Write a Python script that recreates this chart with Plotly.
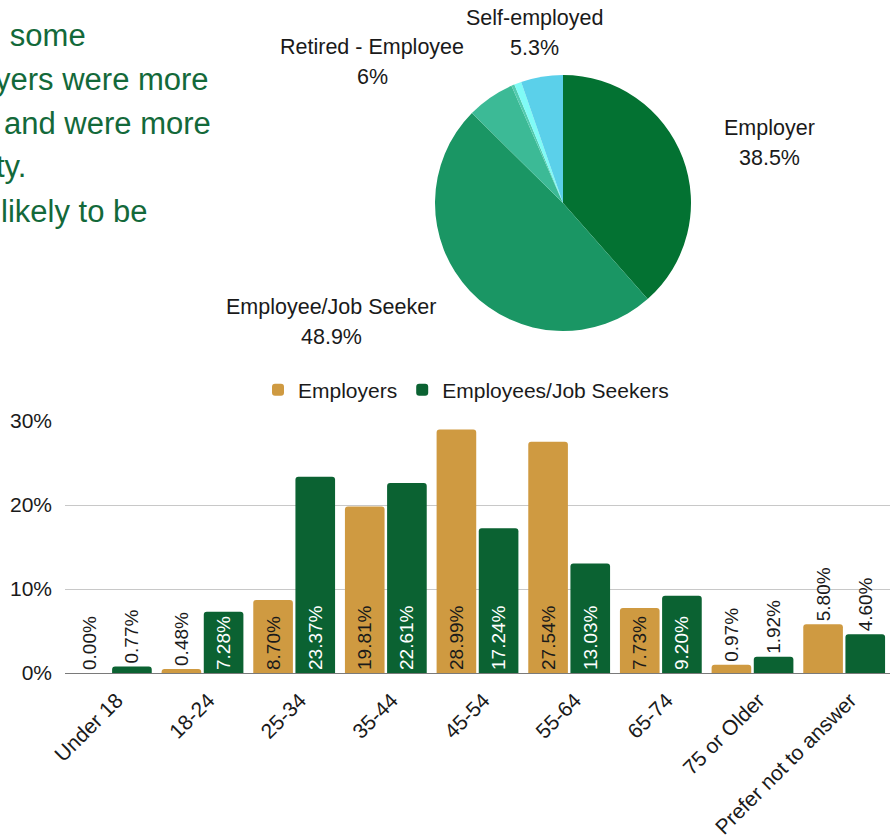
import plotly.graph_objects as go

# ---- data ----
pie_labels = ["Employer", "Employee/Job Seeker", "Retired - Employee",
              "Retired - Employer", "Other", "Self-employed"]
pie_values = [38.5, 48.9, 6.0, 0.4, 0.9, 5.3]
pie_colors = ["#037232", "#1a9664", "#3cba96", "#52cbb0", "#80fbf6", "#5bd0ea"]

age_groups = ["Under 18", "18-24", "25-34", "35-44", "45-54", "55-64",
              "65-74", "75 or Older", "Prefer not to answer"]
employers = [0.00, 0.48, 8.70, 19.81, 28.99, 27.54, 7.73, 0.97, 5.80]
employees = [0.77, 7.28, 23.37, 22.61, 17.24, 13.03, 9.20, 1.92, 4.60]

y_ticks = [0, 10, 20, 30]
y_tick_text = ["0%", "10%", "20%", "30%"]

summary_lines = ["d some", "yers were more", "and were more", "ty.", "likely to be"]

W, H = 890, 835
FONT = "Liberation Sans, Arial, sans-serif"
ORANGE = "#cf9a41"
GREEN = "#0b6232"
INK = "#1a1a1a"


def px(x):
    return x / W


def py(y):
    return 1 - y / H


def pos_for(vals, threshold=6.0):
    return ["inside" if v >= threshold else "outside" for v in vals]


fig = go.Figure()

# pie of respondent types
fig.add_trace(go.Pie(
    labels=pie_labels, values=pie_values, sort=False, direction="clockwise",
    rotation=0, textinfo="none", hoverinfo="label+percent",
    marker=dict(colors=pie_colors, line=dict(width=0)),
    domain=dict(x=[px(435), px(691)], y=[py(331), py(75)]),
    showlegend=False,
))

# grouped bars by age
for name, vals, color, txtcolor in [
    ("Employers", employers, ORANGE, INK),
    ("Employees/Job Seekers", employees, GREEN, "#ffffff"),
]:
    fig.add_trace(go.Bar(
        name=name, x=age_groups, y=vals, marker=dict(color=color, line=dict(width=0)),
        texttemplate="%{y:.2f}%", textangle=-90, textposition=pos_for(vals),
        insidetextanchor="start", constraintext="none",
        insidetextfont=dict(color=txtcolor, size=19, family=FONT),
        outsidetextfont=dict(color=INK, size=19, family=FONT),
        cliponaxis=False,
    ))

# pie slice labels (name line + value line)
pie_label_pos = {
    "Employer": (769, 128),
    "Employee/Job Seeker": (331, 307),
    "Retired - Employee": (372, 47),
    "Self-employed": (534, 18),
}
annotations = []
for lab, val in zip(pie_labels, pie_values):
    if lab not in pie_label_pos:
        continue
    cx, cy = pie_label_pos[lab]
    annotations.append(dict(x=px(cx), y=py(cy), xref="paper", yref="paper",
                            text=lab, showarrow=False, xanchor="center", yanchor="middle",
                            font=dict(size=21.5, color=INK, family=FONT)))
    annotations.append(dict(x=px(cx), y=py(cy + 30), xref="paper", yref="paper",
                            text=f"{val:g}%", showarrow=False, xanchor="center", yanchor="middle",
                            font=dict(size=21.5, color=INK, family=FONT)))

# summary text on the left
line_right = [88, 211, 213, 28, 149]
for i, (line, xr) in enumerate(zip(summary_lines, line_right)):
    annotations.append(dict(x=px(xr), y=py(35 + 44 * i), xref="paper", yref="paper",
                            text=line, showarrow=False, xanchor="right", yanchor="middle",
                            font=dict(size=31, color="#13693a", family=FONT)))

fig.update_layout(
    width=W, height=H,
    margin=dict(l=0, r=0, t=0, b=0),
    paper_bgcolor="white", plot_bgcolor="white",
    font=dict(family=FONT, size=20, color=INK),
    barmode="group", bargap=0.08, bargroupgap=0.06, barcornerradius=3,
    xaxis=dict(domain=[px(65), 1.0], tickangle=-45, showgrid=False, ticks="",
               ticklabelstandoff=10, ticklabelshift=6,
               tickfont=dict(size=21, color=INK), automargin=False),
    yaxis=dict(domain=[py(673), py(421)], range=[0, 30], tickmode="array",
               tickvals=y_ticks, ticktext=y_tick_text,
               showgrid=True, gridcolor="#c8c8c8", gridwidth=1,
               zeroline=True, zerolinecolor="#7a7a7a", zerolinewidth=1,
               ticks="", ticklabelstandoff=12, tickfont=dict(size=21, color=INK),
               automargin=False),
    legend=dict(orientation="h", x=px(466), y=py(390), xanchor="center", yanchor="middle",
                font=dict(size=21, color=INK), itemwidth=30, itemsizing="constant",
                bgcolor="rgba(0,0,0,0)"),
    annotations=annotations,
)

fig.write_html("out.html")
